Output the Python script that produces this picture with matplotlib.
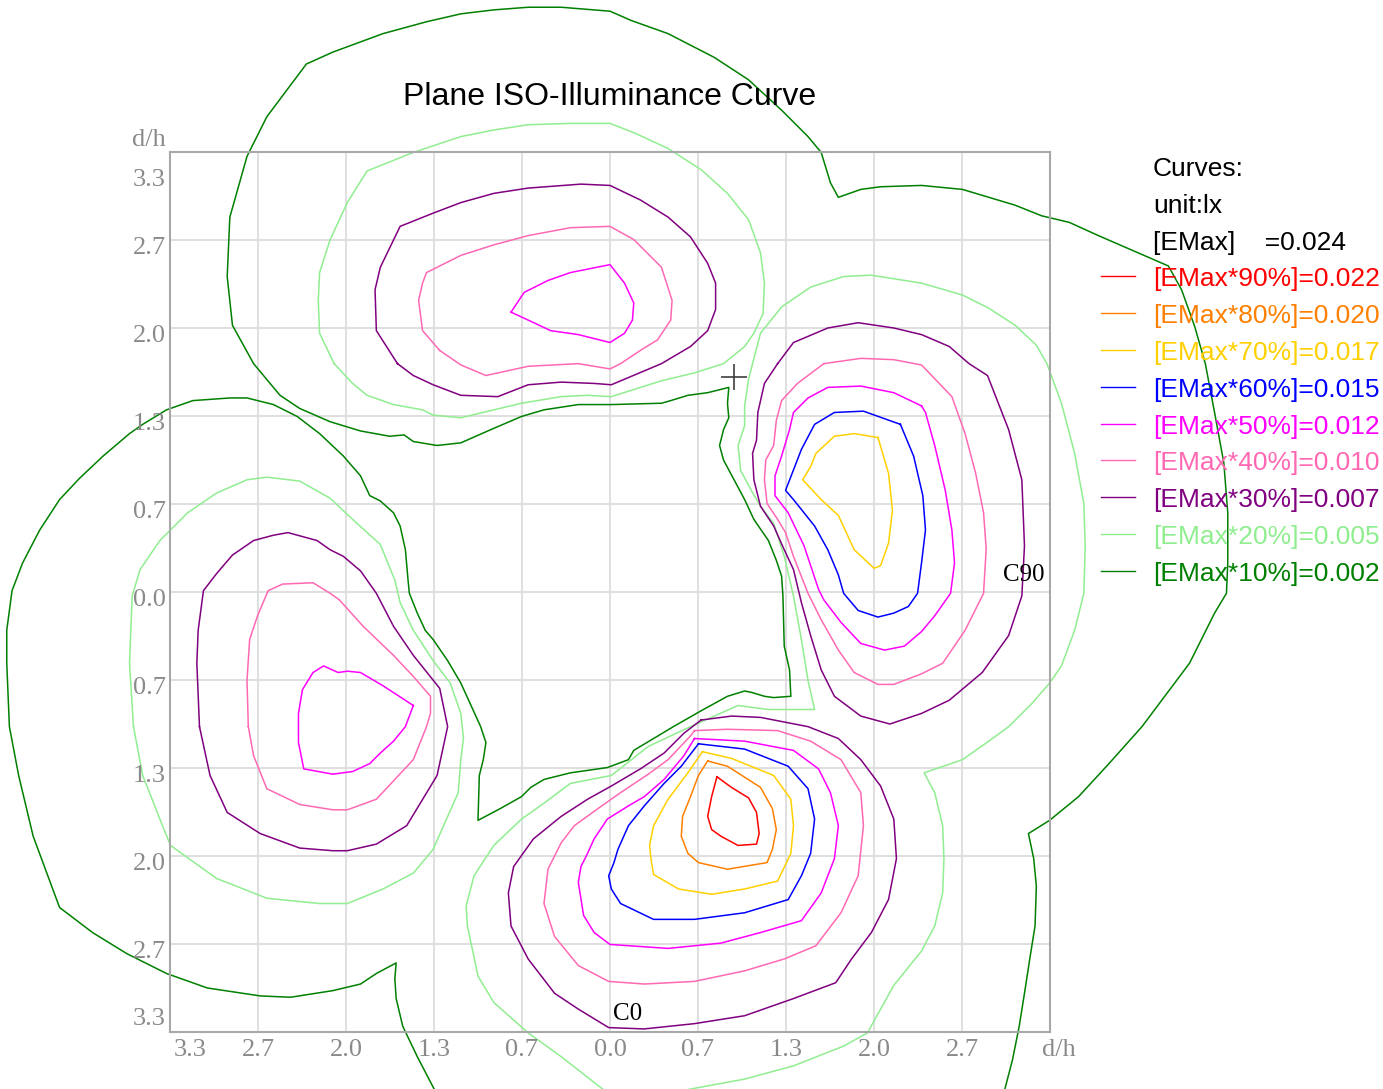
import matplotlib.pyplot as plt
from matplotlib.lines import Line2D

plt.rcParams['font.family'] = ['Liberation Sans', 'DejaVu Sans']

# ---- legend / level data ----
emax = '0.024'
level_pct = [90, 80, 70, 60, 50, 40, 30, 20, 10]
level_lx = ['0.022', '0.020', '0.017', '0.015', '0.012', '0.010', '0.007', '0.005', '0.002']
level_colors = ['#ff0000', '#ff8000', '#ffd000', '#0000ff', '#ff00ff',
                '#ff69b4', '#800080', '#90ee90', '#008000']

# ---- axis ticks (d/h) ----
grid_vals = [-8/3, -2, -4/3, -2/3, 0, 2/3, 4/3, 2, 8/3]
x_label_pos = [-3.18, -8/3, -2, -4/3, -2/3, 0, 2/3, 4/3, 2, 8/3]
x_labels = ['3.3', '2.7', '2.0', '1.3', '0.7', '0.0', '0.7', '1.3', '2.0', '2.7']
y_label_pos = [3.12, 2.603, 1.936, 1.269, 0.603, -0.064, -0.731, -1.397, -2.064, -2.731, -3.235]
y_labels = ['3.3', '2.7', '2.0', '1.3', '0.7', '0.0', '0.7', '1.3', '2.0', '2.7', '3.3']
luminaire_pos = (0.94, 1.63)

# ---- iso-lux curves, (x, y) in d/h ----
red_90 = [(0.81, -1.40), (0.92, -1.48), (1.05, -1.56), (1.11, -1.67), (1.13, -1.83), (1.11, -1.91),
          (0.97, -1.92), (0.84, -1.85), (0.77, -1.80), (0.74, -1.70), (0.77, -1.55), (0.81, -1.40)]

orange_80 = [(0.74, -1.28), (0.89, -1.32), (1.14, -1.48), (1.23, -1.64), (1.26, -1.80), (1.23, -1.95),
             (1.19, -2.05), (0.89, -2.10), (0.67, -2.05), (0.59, -1.98), (0.54, -1.85), (0.55, -1.70),
             (0.61, -1.55), (0.67, -1.39), (0.74, -1.28)]

gold_70_bottom = [(0.70, -1.21), (0.92, -1.26), (1.24, -1.39), (1.37, -1.57), (1.39, -1.77), (1.37, -1.98),
                  (1.27, -2.19), (1.02, -2.25), (0.77, -2.29), (0.52, -2.25), (0.33, -2.14), (0.31, -2.02),
                  (0.30, -1.92), (0.33, -1.77), (0.44, -1.57), (0.59, -1.37), (0.70, -1.21)]
gold_70_right = [(2.03, 1.17), (1.85, 1.20), (1.70, 1.18), (1.56, 1.05), (1.52, 0.95), (1.46, 0.85),
                 (1.60, 0.70), (1.73, 0.58), (1.85, 0.32), (2.00, 0.18), (2.05, 0.20), (2.11, 0.37),
                 (2.14, 0.62), (2.11, 0.90), (2.03, 1.17)]

blue_60_right = [(2.20, 1.27), (1.92, 1.37), (1.70, 1.36), (1.55, 1.27), (1.45, 1.08), (1.33, 0.77),
                 (1.39, 0.70), (1.55, 0.50), (1.65, 0.32), (1.73, 0.13), (1.77, -0.01), (1.88, -0.14),
                 (2.03, -0.19), (2.15, -0.16), (2.26, -0.11), (2.33, -0.01), (2.36, 0.22), (2.39, 0.47),
                 (2.37, 0.73), (2.30, 1.03), (2.20, 1.27)]
blue_60_bottom = [(0.67, -1.15), (1.02, -1.19), (1.35, -1.32), (1.50, -1.49), (1.55, -1.72), (1.52, -1.98),
                  (1.45, -2.15), (1.35, -2.33), (1.02, -2.43), (0.64, -2.48), (0.33, -2.48), (0.08, -2.36),
                  (0.01, -2.25), (-0.01, -2.15), (0.03, -2.05), (0.06, -1.95), (0.14, -1.77), (0.26, -1.62),
                  (0.41, -1.45), (0.54, -1.32), (0.67, -1.15)]

magenta_50_top = [(-0.75, 2.12), (-0.65, 2.27), (-0.47, 2.36), (-0.30, 2.42), (0.0, 2.48), (0.11, 2.34),
                  (0.18, 2.19), (0.17, 2.06), (0.11, 1.96), (0.0, 1.89), (-0.24, 1.95), (-0.45, 1.98),
                  (-0.62, 2.06), (-0.75, 2.12)]
magenta_50_left = [(-1.49, -0.86), (-1.72, -0.71), (-1.89, -0.61), (-1.99, -0.60), (-2.06, -0.61),
                   (-2.17, -0.56), (-2.25, -0.61), (-2.33, -0.74), (-2.36, -0.92), (-2.36, -1.14),
                   (-2.32, -1.34), (-2.10, -1.38), (-1.95, -1.36), (-1.82, -1.30), (-1.74, -1.22),
                   (-1.64, -1.13), (-1.55, -1.02), (-1.49, -0.86)]
magenta_50_bottom = [(0.64, -1.11), (1.02, -1.13), (1.39, -1.20), (1.58, -1.34), (1.67, -1.52), (1.73, -1.77),
                     (1.70, -2.02), (1.60, -2.28), (1.45, -2.49), (1.14, -2.58), (0.84, -2.66), (0.44, -2.70),
                     (0.0, -2.67), (-0.12, -2.58), (-0.20, -2.45), (-0.24, -2.20), (-0.22, -2.08),
                     (-0.17, -1.98), (-0.12, -1.87), (-0.02, -1.72), (0.14, -1.62), (0.26, -1.55),
                     (0.41, -1.42), (0.56, -1.24), (0.64, -1.11)]
magenta_50_right = [(2.36, 1.41), (2.15, 1.51), (1.90, 1.56), (1.65, 1.55), (1.50, 1.47), (1.39, 1.36),
                    (1.36, 1.23), (1.30, 1.03), (1.25, 0.88), (1.25, 0.73), (1.35, 0.60), (1.47, 0.35),
                    (1.58, 0.02), (1.62, -0.06), (1.75, -0.23), (1.90, -0.39), (2.08, -0.44), (2.23, -0.41),
                    (2.36, -0.30), (2.46, -0.18), (2.58, -0.01), (2.61, 0.22), (2.59, 0.47), (2.54, 0.77),
                    (2.46, 1.11), (2.39, 1.36), (2.36, 1.41)]

pink_40_top = [(-1.29, 1.83), (-1.42, 1.98), (-1.45, 2.21), (-1.42, 2.34), (-1.39, 2.42), (-1.13, 2.55),
               (-0.88, 2.63), (-0.62, 2.70), (-0.30, 2.76), (0.0, 2.77), (0.18, 2.67), (0.39, 2.46),
               (0.47, 2.21), (0.46, 2.06), (0.36, 1.91), (0.23, 1.83), (0.08, 1.73), (0.0, 1.69),
               (-0.24, 1.73), (-0.62, 1.71), (-0.94, 1.64), (-1.13, 1.72), (-1.29, 1.83)]
pink_40_left = [(-2.74, -1.02), (-2.75, -0.67), (-2.73, -0.36), (-2.67, -0.18), (-2.59, 0.01), (-2.48, 0.06),
                (-2.25, 0.07), (-2.12, -0.01), (-2.05, -0.06), (-1.87, -0.26), (-1.64, -0.48), (-1.49, -0.64),
                (-1.36, -0.79), (-1.36, -0.92), (-1.39, -1.02), (-1.49, -1.27), (-1.77, -1.57), (-1.99, -1.65),
                (-2.10, -1.65), (-2.35, -1.61), (-2.60, -1.49), (-2.70, -1.24), (-2.74, -1.02)]
pink_40_bottom = [(0.64, -1.05), (0.89, -1.04), (1.27, -1.05), (1.52, -1.13), (1.75, -1.27), (1.90, -1.52),
                  (1.92, -1.77), (1.88, -2.15), (1.75, -2.43), (1.56, -2.68), (1.32, -2.78), (1.02, -2.87),
                  (0.64, -2.95), (0.26, -2.97), (-0.01, -2.95), (-0.24, -2.83), (-0.42, -2.61), (-0.50, -2.36),
                  (-0.47, -2.10), (-0.37, -1.90), (-0.27, -1.77), (-0.09, -1.64), (0.08, -1.52), (0.29, -1.38),
                  (0.44, -1.27), (0.61, -1.09), (0.64, -1.05)]
pink_40_right = [(1.62, 1.73), (1.42, 1.58), (1.30, 1.45), (1.26, 1.30), (1.24, 1.11), (1.18, 1.00),
                 (1.17, 0.85), (1.19, 0.67), (1.27, 0.55), (1.33, 0.45), (1.39, 0.27), (1.50, -0.01),
                 (1.60, -0.21), (1.73, -0.44), (1.85, -0.61), (2.03, -0.70), (2.15, -0.70), (2.36, -0.62),
                 (2.52, -0.54), (2.69, -0.29), (2.83, -0.01), (2.85, 0.33), (2.83, 0.60), (2.77, 0.90),
                 (2.69, 1.20), (2.59, 1.48), (2.36, 1.72), (2.15, 1.76), (1.90, 1.77), (1.62, 1.73)]

purple_30_top = [(-1.61, 1.73), (-1.77, 1.98), (-1.78, 2.29), (-1.74, 2.46), (-1.59, 2.77), (-1.34, 2.87),
                 (-1.13, 2.95), (-0.88, 3.02), (-0.62, 3.06), (-0.22, 3.09), (0.0, 3.08), (0.23, 2.97),
                 (0.44, 2.84), (0.61, 2.69), (0.74, 2.49), (0.80, 2.34), (0.80, 2.14), (0.74, 1.98),
                 (0.61, 1.86), (0.39, 1.73), (0.01, 1.57), (-0.12, 1.58), (-0.37, 1.59), (-0.62, 1.57),
                 (-0.85, 1.48), (-1.13, 1.49), (-1.34, 1.57), (-1.49, 1.64), (-1.61, 1.73)]
purple_30_left = [(-3.11, -1.02), (-3.13, -0.54), (-3.12, -0.29), (-3.08, 0.01), (-2.98, 0.14), (-2.86, 0.28),
                  (-2.70, 0.39), (-2.55, 0.43), (-2.44, 0.45), (-2.33, 0.42), (-2.22, 0.39), (-2.12, 0.32),
                  (-2.02, 0.27), (-1.89, 0.16), (-1.77, -0.01), (-1.64, -0.26), (-1.49, -0.48), (-1.29, -0.73),
                  (-1.23, -1.02), (-1.31, -1.39), (-1.54, -1.77), (-1.77, -1.91), (-1.99, -1.96), (-2.10, -1.96),
                  (-2.35, -1.94), (-2.65, -1.83), (-2.90, -1.67), (-3.03, -1.39), (-3.11, -1.02)]
purple_30_bottom = [(0.69, -0.97), (0.92, -0.94), (1.14, -0.95), (1.50, -1.02), (1.73, -1.11), (1.90, -1.27),
                    (2.05, -1.47), (2.15, -1.72), (2.17, -2.02), (2.11, -2.33), (1.98, -2.58), (1.83, -2.78),
                    (1.71, -2.96), (1.39, -3.08), (1.02, -3.21), (0.64, -3.27), (0.26, -3.31), (-0.01, -3.30),
                    (-0.24, -3.16), (-0.42, -3.04), (-0.62, -2.78), (-0.75, -2.53), (-0.77, -2.28), (-0.73, -2.08),
                    (-0.58, -1.87), (-0.37, -1.70), (-0.17, -1.57), (0.01, -1.47), (0.23, -1.34), (0.41, -1.22),
                    (0.56, -1.07), (0.69, -0.97)]
purple_30_right = [(1.27, 1.73), (1.17, 1.58), (1.12, 1.36), (1.11, 1.15), (1.08, 1.05), (1.09, 0.85),
                   (1.14, 0.65), (1.24, 0.50), (1.32, 0.32), (1.39, 0.17), (1.45, -0.08), (1.52, -0.33),
                   (1.60, -0.59), (1.70, -0.79), (1.90, -0.94), (2.12, -1.00), (2.36, -0.92), (2.57, -0.82),
                   (2.82, -0.61), (3.02, -0.33), (3.12, -0.03), (3.14, 0.35), (3.12, 0.85), (3.02, 1.23),
                   (2.86, 1.64), (2.72, 1.73), (2.57, 1.86), (2.36, 1.95), (2.15, 2.00), (1.88, 2.04),
                   (1.65, 2.00), (1.39, 1.89), (1.27, 1.73)]

lightgreen_20_top = [(-2.09, 1.73), (-2.20, 1.96), (-2.21, 2.21), (-2.20, 2.42), (-2.12, 2.67), (-1.99, 2.95),
                     (-1.84, 3.19), (-1.49, 3.33), (-1.13, 3.45), (-0.88, 3.50), (-0.62, 3.54), (-0.30, 3.55),
                     (0.0, 3.55), (0.18, 3.48), (0.44, 3.36), (0.69, 3.20), (0.89, 3.02), (1.05, 2.82),
                     (1.14, 2.57), (1.17, 2.34), (1.16, 2.11), (1.09, 1.96), (1.02, 1.86), (0.86, 1.73),
                     (0.64, 1.66), (0.39, 1.60), (0.01, 1.48), (-0.17, 1.49), (-0.37, 1.48), (-0.67, 1.43),
                     (-0.88, 1.38), (-1.13, 1.32), (-1.34, 1.34), (-1.42, 1.38), (-1.64, 1.42), (-1.84, 1.49),
                     (-1.95, 1.58), (-2.09, 1.73)]
lightgreen_20_left = [(-3.61, -1.02), (-3.64, -0.54), (-3.62, -0.03), (-3.56, 0.17), (-3.41, 0.39), (-3.20, 0.60),
                      (-2.98, 0.75), (-2.75, 0.85), (-2.60, 0.87), (-2.35, 0.84), (-2.12, 0.71), (-1.95, 0.55),
                      (-1.74, 0.36), (-1.63, 0.09), (-1.59, -0.08), (-1.49, -0.29), (-1.34, -0.52), (-1.21, -0.69),
                      (-1.13, -0.92), (-1.11, -1.11), (-1.13, -1.27), (-1.15, -1.52), (-1.34, -1.95), (-1.49, -2.13),
                      (-1.72, -2.25), (-1.99, -2.36), (-2.20, -2.36), (-2.60, -2.32), (-2.98, -2.17), (-3.33, -1.92),
                      (-3.41, -1.72), (-3.54, -1.39), (-3.61, -1.02)]
# right and bottom lobes share one 20% line that closes below the sheet
lightgreen_20_rb = [(0.05, -3.90), (-0.05, -3.77), (-0.37, -3.52), (-0.62, -3.34), (-0.88, -3.11), (-1.00, -2.91),
                    (-1.08, -2.53), (-1.09, -2.38), (-1.03, -2.15), (-0.88, -1.92), (-0.67, -1.72), (-0.50, -1.60),
                    (-0.30, -1.45), (0.01, -1.39), (0.29, -1.17), (0.61, -1.02), (0.97, -0.86), (1.20, -0.89),
                    (1.55, -0.89), (1.50, -0.67), (1.45, -0.36), (1.39, -0.03), (1.32, 0.27), (1.24, 0.52),
                    (1.14, 0.65), (1.07, 0.77), (0.99, 0.92), (0.97, 1.11), (1.02, 1.26), (1.02, 1.41),
                    (1.05, 1.61), (1.08, 1.73), (1.14, 1.96), (1.30, 2.16), (1.52, 2.31), (1.77, 2.39),
                    (1.98, 2.40), (2.36, 2.34), (2.67, 2.25), (2.87, 2.15), (3.07, 2.02), (3.23, 1.87),
                    (3.31, 1.73), (3.42, 1.43), (3.52, 1.05), (3.59, 0.67), (3.60, 0.35), (3.59, -0.01),
                    (3.52, -0.29), (3.42, -0.56), (3.33, -0.69), (3.20, -0.84), (3.02, -1.02), (2.87, -1.13),
                    (2.67, -1.27), (2.38, -1.37), (2.46, -1.52), (2.52, -1.77), (2.53, -2.02), (2.52, -2.28),
                    (2.46, -2.53), (2.36, -2.72), (2.15, -2.98), (1.95, -3.34), (1.77, -3.44), (1.39, -3.59),
                    (1.02, -3.69), (0.64, -3.76), (0.38, -3.81)]

# 10% line winds round all four lobes and leaves the sheet at the bottom
green_10 = [(-1.29, -3.85), (-1.33, -3.77), (-1.46, -3.52), (-1.57, -3.29), (-1.62, -3.08), (-1.63, -2.93),
            (-1.62, -2.81), (-1.77, -2.89), (-1.89, -2.97), (-2.10, -3.02), (-2.42, -3.07), (-2.65, -3.06),
            (-3.05, -3.00), (-3.36, -2.89), (-3.66, -2.74), (-3.92, -2.58), (-4.17, -2.39), (-4.37, -1.85),
            (-4.48, -1.39), (-4.55, -1.02), (-4.57, -0.54), (-4.57, -0.29), (-4.53, 0.01), (-4.45, 0.22),
            (-4.32, 0.47), (-4.17, 0.70), (-4.02, 0.86), (-3.84, 1.03), (-3.64, 1.20), (-3.54, 1.27),
            (-3.36, 1.38), (-3.16, 1.45), (-2.88, 1.47), (-2.75, 1.47), (-2.55, 1.42), (-2.37, 1.33),
            (-2.20, 1.20), (-2.02, 1.03), (-1.89, 0.88), (-1.82, 0.73), (-1.74, 0.69), (-1.64, 0.60),
            (-1.59, 0.50), (-1.55, 0.32), (-1.53, 0.09), (-1.52, -0.01), (-1.46, -0.16), (-1.40, -0.29),
            (-1.34, -0.36), (-1.23, -0.52), (-1.13, -0.69), (-0.98, -1.02), (-0.94, -1.14), (-0.96, -1.27),
            (-0.99, -1.39), (-1.00, -1.73), (-0.83, -1.64), (-0.67, -1.55), (-0.60, -1.48), (-0.50, -1.42),
            (-0.30, -1.37), (-0.02, -1.33), (0.14, -1.27), (0.18, -1.20), (0.33, -1.11), (0.48, -1.02),
            (0.69, -0.90), (0.89, -0.79), (1.02, -0.75), (1.07, -0.76), (1.17, -0.79), (1.24, -0.80),
            (1.37, -0.79), (1.36, -0.59), (1.32, -0.41), (1.31, -0.03), (1.30, 0.12), (1.26, 0.24),
            (1.20, 0.39), (1.09, 0.55), (1.02, 0.70), (0.94, 0.85), (0.86, 1.00), (0.83, 1.11),
            (0.86, 1.23), (0.90, 1.32), (0.89, 1.43), (0.90, 1.55), (0.74, 1.51), (0.59, 1.49),
            (0.46, 1.45), (0.39, 1.43), (0.01, 1.42), (-0.24, 1.42), (-0.50, 1.38), (-0.67, 1.33),
            (-0.88, 1.24), (-1.13, 1.13), (-1.31, 1.11), (-1.49, 1.14), (-1.56, 1.19), (-1.67, 1.18),
            (-1.89, 1.22), (-2.12, 1.29), (-2.35, 1.39), (-2.50, 1.49), (-2.70, 1.73), (-2.86, 2.02),
            (-2.90, 2.39), (-2.88, 2.84), (-2.75, 3.30), (-2.60, 3.60), (-2.30, 4.00), (-2.10, 4.09),
            (-1.72, 4.23), (-1.39, 4.32), (-1.13, 4.38), (-0.88, 4.41), (-0.62, 4.43), (-0.37, 4.43),
            (0.0, 4.40), (0.16, 4.33), (0.44, 4.23), (0.79, 4.05), (1.05, 3.88), (1.30, 3.65),
            (1.50, 3.45), (1.60, 3.33), (1.67, 3.10), (1.73, 2.99), (1.90, 3.05), (2.05, 3.07),
            (2.36, 3.08), (2.67, 3.05), (2.87, 2.99), (3.07, 2.93), (3.27, 2.85), (3.48, 2.80),
            (3.70, 2.70), (3.93, 2.60), (4.23, 2.47), (4.33, 2.29), (4.43, 2.01), (4.51, 1.73),
            (4.58, 1.36), (4.65, 0.98), (4.68, 0.60), (4.68, 0.22), (4.67, -0.01), (4.58, -0.16),
            (4.39, -0.54), (4.03, -1.02), (3.78, -1.30), (3.55, -1.55), (3.33, -1.73), (3.17, -1.83),
            (3.21, -2.02), (3.23, -2.23), (3.22, -2.53), (3.18, -2.78), (3.14, -3.04), (3.10, -3.29),
            (3.05, -3.54), (2.99, -3.77), (2.98, -3.85)]

curves = [
    (green_10, '#008000'),
    (lightgreen_20_top, '#90ee90'), (lightgreen_20_left, '#90ee90'), (lightgreen_20_rb, '#90ee90'),
    (purple_30_top, '#800080'), (purple_30_left, '#800080'),
    (purple_30_bottom, '#800080'), (purple_30_right, '#800080'),
    (pink_40_top, '#ff69b4'), (pink_40_left, '#ff69b4'),
    (pink_40_bottom, '#ff69b4'), (pink_40_right, '#ff69b4'),
    (magenta_50_top, '#ff00ff'), (magenta_50_left, '#ff00ff'),
    (magenta_50_bottom, '#ff00ff'), (magenta_50_right, '#ff00ff'),
    (blue_60_right, '#0000ff'), (blue_60_bottom, '#0000ff'),
    (gold_70_right, '#ffd000'), (gold_70_bottom, '#ffd000'),
    (orange_80, '#ff8000'),
    (red_90, '#ff0000'),
]

W, H = 1383, 1089
fig = plt.figure(figsize=(W / 100, H / 100), dpi=100)
ax = fig.add_axes([170 / W, 57 / H, 880 / W, 880 / H])
lim = 10 / 3
ax.set_xlim(-lim, lim)
ax.set_ylim(-lim, lim)
ax.set_xticks([])
ax.set_yticks([])
for s in ax.spines.values():
    s.set_color('#a8a8a8')
    s.set_linewidth(1.5)
for g in grid_vals:
    ax.axvline(g, color='#dcdcdc', lw=1.3, zorder=0)
    ax.axhline(g, color='#dcdcdc', lw=1.3, zorder=0)

for pts, col in curves:
    xs = [p[0] for p in pts]
    ys = [p[1] for p in pts]
    ax.plot(xs, ys, color=col, lw=1.1, clip_on=False, zorder=2)

# tick labels
serif = ['Liberation Serif', 'DejaVu Serif']
tick_col = '#8a8a8a'
for xp, lab in zip(x_label_pos, x_labels):
    ax.text(xp, -3.466, lab, ha='center', va='center', fontsize=19, color=tick_col,
            family=serif, clip_on=False)
ax.text(3.273, -3.466, 'd/h', ha='left', va='center', fontsize=19, color=tick_col, family=serif)
for yp, lab in zip(y_label_pos, y_labels):
    ax.text(-3.364, yp, lab, ha='right', va='center', fontsize=19, color=tick_col, family=serif)
ax.text(-3.364, 3.424, 'd/h', ha='right', va='center', fontsize=19, color=tick_col, family=serif)

ax.text(0.02, -3.20, 'C0', ha='left', va='center', fontsize=18, color='black', family=serif)
ax.text(3.29, 0.13, 'C90', ha='right', va='center', fontsize=18, color='black', family=serif)
ax.plot([luminaire_pos[0]], [luminaire_pos[1]], marker='+', ms=19, mew=1.2,
        color='#404040', clip_on=False, zorder=3)

fig.text(609.5 / W, 1 - 97 / H, 'Plane ISO-Illuminance Curve', ha='center', va='center',
         fontsize=23, color='black')

# legend block on the right
row0, step = 176, 36.8
fs = 19
fig.text(1153 / W, 1 - row0 / H, 'Curves:', fontsize=fs, va='baseline')
fig.text(1153 / W, 1 - (row0 + step) / H, 'unit:lx', fontsize=fs, va='baseline')
fig.text(1153 / W, 1 - (row0 + 2 * step) / H, '[EMax]    =' + emax, fontsize=fs, va='baseline')
for i, (p, v, c) in enumerate(zip(level_pct, level_lx, level_colors)):
    yb = row0 + (3 + i) * step
    fig.text(1153 / W, 1 - yb / H, f'[EMax*{p}%]={v}', fontsize=fs, va='baseline', color=c)
    fig.add_artist(Line2D([1101 / W, 1135 / W], [1 - (yb - 10) / H] * 2, color=c, lw=1.0,
                          transform=fig.transFigure))

fig.savefig('out.png', dpi=100)
